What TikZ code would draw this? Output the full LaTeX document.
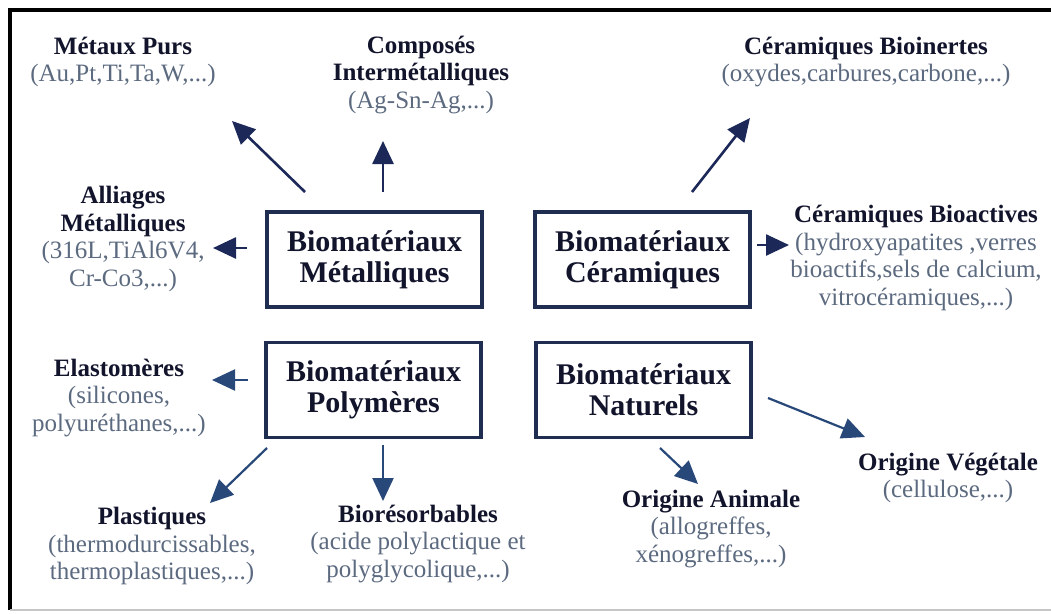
\documentclass[tikz,border=0pt]{standalone}
\usepackage{fontspec}
\setmainfont{Liberation Serif}
\usetikzlibrary{arrows.meta}
\definecolor{navy}{RGB}{27,40,88}
\definecolor{steel}{RGB}{40,72,122}
\definecolor{boxc}{RGB}{30,45,80}
\definecolor{titc}{RGB}{18,20,44}
\definecolor{subc}{RGB}{92,106,128}
\tikzset{
  catbox/.style={draw=boxc, line width=3.2pt, minimum width=215pt, minimum height=95pt,
    inner sep=0pt, align=center, text=titc, font=\fontsize{30}{31}\selectfont\bfseries},
  lab/.style={align=center, inner sep=0pt, text=titc, font=\fontsize{25}{27.5}\selectfont},
  arr/.style={draw=navy, line width=2.6pt, -{Triangle[length=23pt,width=21pt]}},
  arrb/.style={arr, draw=steel, line width=2.2pt},
}
\newcommand{\sub}[1]{\textcolor{subc}{#1}}
\begin{document}
\begin{tikzpicture}[x=1pt,y=-1pt]
\useasboundingbox (0,0) rectangle (1051,613);
\fill[white] (0,0) rectangle (1051,613);
% frame
\draw[black, line width=3.2pt] (10,610) -- (10,10) -- (1051,10);
\draw[gray!45, line width=2pt] (10,610) -- (1051,610);

% category boxes
\node[catbox] (M) at (374.5,259.5) {Biomatériaux\\Métalliques};
\node[catbox] (C) at (642.5,259.5) {Biomatériaux\\Céramiques};
\node[catbox] (P) at (373.5,390) {Biomatériaux\\Polymères};
\node[catbox] (N) at (643.5,390) {Biomatériaux\\Naturels};

% labels
\node[lab] (mp) at (123,62) {\textbf{Métaux Purs}\\\sub{(Au,Pt,Ti,Ta,W,...)}};
\node[lab] (ci) at (421,75) {\textbf{Composés}\\\textbf{Intermétalliques}\\\sub{(Ag-Sn-Ag,...)}};
\node[lab] (am) at (123,239) {\textbf{Alliages}\\\textbf{Métalliques}\\\sub{(316L,TiAl6V4,}\\\sub{Cr-Co3,...)}};
\node[lab] (cbi) at (866,62) {\textbf{Céramiques Bioinertes}\\\sub{(oxydes,carbures,carbone,...)}};
\node[lab] (cba) at (916,258) {\textbf{Céramiques Bioactives}\\\sub{(hydroxyapatites ,verres}\\\sub{bioactifs,sels de calcium,}\\\sub{vitrocéramiques,...)}};
\node[lab] (el) at (119,398) {\textbf{Elastomères}\\\sub{(silicones,}\\\sub{polyuréthanes,...)}};
\node[lab] (pl) at (152,546) {\textbf{Plastiques}\\\sub{(thermodurcissables,}\\\sub{thermoplastiques,...)}};
\node[lab] (br) at (418,544) {\textbf{Biorésorbables}\\\sub{(acide polylactique et}\\\sub{polyglycolique,...)}};
\node[lab] (oa) at (711,529) {\textbf{Origine Animale}\\\sub{(allogreffes,}\\\sub{xénogreffes,...)}};
\node[lab] (ov) at (948,478) {\textbf{Origine Végétale}\\\sub{(cellulose,...)}};

% arrow end points
\coordinate (s1) at (305,192); \coordinate (e1) at (232,121);
\coordinate (s2) at (383,192); \coordinate (e2) at (383,141);
\coordinate (s3) at (247,248); \coordinate (e3) at (213,248);
\coordinate (s4) at (692,192); \coordinate (e4) at (750,118);
\coordinate (s5) at (757,245); \coordinate (e5) at (789,245);
\coordinate (s6) at (248,380); \coordinate (e6) at (212,380);
\coordinate (s7) at (267,448); \coordinate (e7) at (210,503);
\coordinate (s8) at (383,445); \coordinate (e8) at (383,501);
\coordinate (s9) at (660,448); \coordinate (e9) at (698,484);
\coordinate (s10) at (768,398); \coordinate (e10) at (865,437);

\draw[arr] (s1) -- (e1);
\draw[arr] (s2) -- (e2);
\draw[arr] (s3) -- (e3);
\draw[arr] (s4) -- (e4);
\draw[arr] (s5) -- (e5);
\draw[arrb] (s6) -- (e6);
\draw[arrb] (s7) -- (e7);
\draw[arrb] (s8) -- (e8);
\draw[arrb] (s9) -- (e9);
\draw[arrb] (s10) -- (e10);
\end{tikzpicture}
\end{document}
